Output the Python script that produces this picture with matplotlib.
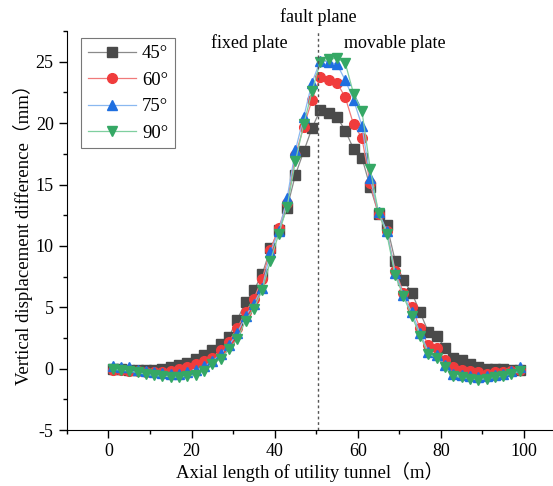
import numpy as np
import matplotlib.pyplot as plt
from matplotlib.ticker import MultipleLocator

# axial positions along the tunnel (m)
x = np.arange(1, 100, 2)

d45 = [-0.05, -0.05, -0.1, -0.1, -0.1, -0.1, 0.0, 0.15, 0.3, 0.5,
       0.8, 1.1, 1.5, 2.0, 2.6, 4.0, 5.4, 6.4, 7.7, 9.8,
       11.3, 13.1, 15.8, 17.7, 19.6, 21.1, 20.8, 20.5, 19.4, 17.9,
       17.2, 14.8, 12.6, 11.7, 8.8, 7.2, 6.2, 4.6, 3.0, 2.7,
       1.7, 0.9, 0.7, 0.4, 0.1, 0.0, 0.0, -0.05, -0.1, -0.1]
d60 = [-0.1, -0.1, -0.15, -0.2, -0.25, -0.3, -0.3, -0.2, -0.05, 0.15,
       0.35, 0.65, 0.9, 1.5, 2.2, 3.3, 4.6, 5.7, 7.3, 9.7,
       11.5, 13.5, 17.4, 19.7, 21.9, 23.8, 23.5, 23.3, 22.1, 19.9,
       18.8, 15.1, 12.6, 11.2, 8.0, 6.2, 5.0, 3.3, 1.9, 1.7,
       0.7, 0.1, -0.1, -0.2, -0.3, -0.4, -0.3, -0.3, -0.2, -0.1]
d75 = [0.2, 0.15, 0.1, -0.1, -0.2, -0.3, -0.35, -0.4, -0.4, -0.3,
       -0.1, 0.2, 0.6, 1.2, 1.9, 2.9, 4.3, 5.3, 6.6, 9.5,
       11.2, 13.9, 17.8, 20.5, 23.3, 25.1, 25.0, 24.8, 23.5, 21.9,
       19.8, 15.5, 12.8, 11.2, 7.8, 6.0, 4.6, 2.9, 1.4, 1.1,
       0.3, -0.4, -0.5, -0.6, -0.7, -0.6, -0.5, -0.4, -0.2, 0.1]
d90 = [-0.05, -0.1, -0.2, -0.3, -0.45, -0.55, -0.6, -0.65, -0.7, -0.6,
       -0.5, -0.15, 0.4, 0.8, 1.6, 2.4, 3.9, 4.9, 6.4, 8.8,
       11.0, 13.2, 16.9, 19.9, 22.6, 25.0, 25.2, 25.3, 24.9, 22.4,
       21.0, 16.3, 12.7, 11.0, 7.6, 5.9, 4.3, 2.7, 1.2, 0.9,
       0.1, -0.6, -0.7, -0.8, -0.9, -0.8, -0.7, -0.6, -0.4, -0.2]

labels = ["45°", "60°", "75°", "90°"]
fault_x = 50.5

plt.rcParams['font.family'] = ['Liberation Serif', 'Noto Sans CJK SC']
plt.rcParams['font.size'] = 13
plt.rcParams['axes.unicode_minus'] = False

fig = plt.figure(figsize=(5.53, 4.86), dpi=100)
ax = fig.add_axes([0.121, 0.115, 0.879, 0.821])

series = [
    (d45, "s", "#4a4a4a", "#8a8a8a"),
    (d60, "o", "#f03c3c", "#f07a7a"),
    (d75, "^", "#1f6fe0", "#8ab8f0"),
    (d90, "v", "#35a865", "#7fcf9f"),
]
for (y, m, mc, lc), lab in zip(series, labels):
    ax.plot(x, y, color=lc, lw=0.9, marker=m, markersize=7,
            markerfacecolor=mc, markeredgecolor=mc, label=lab)

ax.axvline(fault_x, color="#555555", lw=1.0, ls=(0, (2, 2)))

ax.set_xlim(-10, 107)
ax.set_ylim(-5, 27.5)
ax.xaxis.set_major_locator(MultipleLocator(20))
ax.xaxis.set_minor_locator(MultipleLocator(10))
ax.yaxis.set_major_locator(MultipleLocator(5))
ax.yaxis.set_minor_locator(MultipleLocator(2.5))
ax.tick_params(which="major", direction="out", length=6, width=1, labelsize=13)
ax.tick_params(which="minor", direction="out", length=3, width=1)
ax.spines["top"].set_visible(False)
ax.spines["right"].set_visible(False)

ax.set_xlabel("Axial length of utility tunnel（m）", fontsize=13.5, labelpad=1)
ax.set_ylabel("Vertical displacement difference（mm）", fontsize=13.5, labelpad=2)

ax.text(fault_x, 1.012, "fault plane", transform=ax.get_xaxis_transform(),
        ha="center", va="bottom")
ax.text(34, 26.5, "fixed plate", ha="center", va="center")
ax.text(69, 26.5, "movable plate", ha="center", va="center")

leg = ax.legend(loc="upper left", bbox_to_anchor=(0.01, 1.005), frameon=True,
                fancybox=False, edgecolor="#555555", handlelength=2.6,
                borderpad=0.35, labelspacing=0.5, handletextpad=0.3,
                fontsize=13.5)
leg.get_frame().set_linewidth(0.8)

fig.savefig("out.png", dpi=100)
